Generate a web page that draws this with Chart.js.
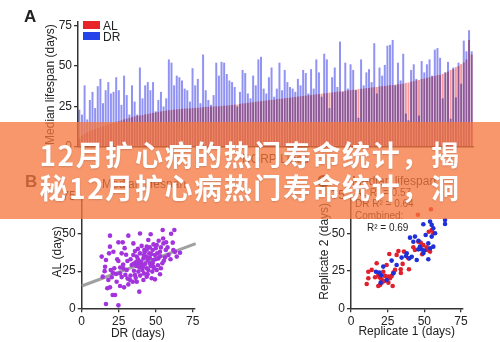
<!DOCTYPE html>
<html><head><meta charset="utf-8">
<script src="https://cdn.jsdelivr.net/npm/chart.js@4.4.1/dist/chart.umd.min.js"></script>
<style>
html,body{margin:0;padding:0;background:#fff;}
#wrap{position:relative;width:500px;height:342px;overflow:hidden;font-family:'Liberation Sans',Arial,sans-serif;color:#222;}
.box{position:absolute;}
.lbl{position:absolute;white-space:nowrap;line-height:1;}
.sw{position:absolute;width:17px;height:8px;}
#banner{position:absolute;left:0;top:122px;width:500px;height:97px;background:rgba(246,118,62,0.76);z-index:10;}
#banner div{position:absolute;left:0;width:500px;text-align:center;color:#fff;font-weight:bold;font-size:28px;font-family:'Noto Sans CJK SC',sans-serif;letter-spacing:1.6px;white-space:nowrap;line-height:36px;text-shadow:0 1px 2px rgba(0,0,0,.15);}
</style></head>
<body>
<div id="wrap">
  <div class="box" style="left:0;top:0;width:500px;height:172px"><canvas id="cA"></canvas></div>
  <div class="box" style="left:0;top:175px;width:250px;height:167px"><canvas id="cB"></canvas></div>
  <div class="box" style="left:250px;top:175px;width:250px;height:167px"><canvas id="cC"></canvas></div>

  <div class="lbl" style="left:24px;top:8px;font-weight:bold;font-size:17px">A</div>
  <div class="sw" style="left:83px;top:21px;background:#E8232A"></div>
  <div class="sw" style="left:83px;top:32px;background:#2443E8"></div>
  <div class="lbl" style="left:103px;top:20px;font-size:12px">AL</div>
  <div class="lbl" style="left:103px;top:31px;font-size:12px">DR</div>

  <div class="lbl" style="left:25px;top:173px;font-weight:bold;font-size:17px">B</div>
  <div class="lbl" style="left:102px;top:178px;font-size:12px">Median lifespan</div>

  <div class="lbl" style="left:317px;top:173px;font-weight:bold;font-size:17px">C</div>
  <div class="lbl" style="left:352px;top:175px;font-size:12px">Median lifespan</div>
  <div class="lbl" style="left:355px;top:188px;font-size:10px">AL R² = 0.57</div>
  <div class="lbl" style="left:355px;top:199px;font-size:10px">DR R² = 0.64</div>
  <div class="lbl" style="left:355px;top:211px;font-size:10px">Combined:</div>
  <div class="lbl" style="left:367px;top:223px;font-size:10px">R² = 0.69</div>

  <div id="banner">
    <div style="top:14px">12月扩心病的热门寿命统计，揭</div>
    <div style="top:47px">秘12月扩心病热门寿命统计，洞</div>
  </div>
</div>
<script>
// ---- Panel A: median lifespan per DGRP line (sorted by AL) ----
const AL = [5.5,7,8.2,9,9.8,10.4,11.1,11.6,12.3,12.8,
  13.2,13.9,14.4,14.8,15.5,15.9,16.4,17.1,17.5,18.0,
  18.4,18.9,19.2,19.4,19.7,20.1,20.3,20.8,21.0,21.3,
  21.7,21.9,22.2,22.5,22.7,22.8,23.1,23.2,23.4,23.6,
  23.7,23.8,23.8,24.0,24.1,24.1,24.3,24.6,24.7,24.8,
  24.9,25.0,25.1,25.1,25.3,25.5,25.5,25.7,25.9,26.1,
  26.2,26.6,26.9,27.0,27.2,27.5,27.6,27.9,28.1,28.2,
  28.5,28.6,28.9,29.1,29.2,29.5,29.7,29.8,30.1,30.3,
  30.4,30.7,30.8,31.1,31.3,31.4,31.7,31.9,32.0,32.3,
  32.5,32.6,32.9,33.1,33.2,33.5,33.6,33.9,34.1,34.2,
  34.5,34.7,34.8,35.1,35.3,35.4,35.7,35.9,36.0,36.3,
  36.4,36.7,36.9,37.0,37.3,37.5,37.6,37.9,38.1,38.2,
  38.5,38.7,38.8,39.1,39.5,39.8,40.3,40.6,41.1,41.3,
  41.9,42.2,42.7,43.0,43.5,43.8,44.3,44.5,45.1,45.9,
  46.5,47.5,48.1,49.2,49.9,51.1,52.2,54.0,66.0,57.0];
const DR = [23,20,38,17,29,34,24,37.5,42,27,
  35,40,33,34,43,35,26,44,32,20,
  38,28,20,49,30,38,40,35,40,22,
  29,34,25,30,54,52,38,44,43,41,
  36,35,28,48.6,38,42,27,57,35,29,
  26,32,52,44,52.5,52,45,41,40,37,
  25,34,47.5,45.6,33,30,44,38,54,55.6,
  36,33,43,49,31,36,52,35,47.5,40,
  37,36,34,42,38,47.5,45.6,33,48,36,
  54,46,31,57.5,54,24,43,49,37,65,
  34,52,36,51,47.5,35,18,54,38,46,
  48,40,64,33,49,44,50.6,62.5,63,66,
  38,52,41,57.5,20.6,16.5,47.5,51,42,19.4,
  53,46,51,54,44,60,61,55,30,46,
  52.5,17.5,49,30.6,52,39,65.6,59,72,59];
const lines = AL.map((_, i) => 'Line ' + (i + 1));
const aTicks = [0, 25, 50, 75];

// ---- Panel B: DR vs AL per line ----
const bDR = [19.1,31.5,39.4,46.6,54.7,62.6,60.4,24.8,27.7,34.9,19.1,21.4,13.5,16.4,24.8,30.9,43.9,42.3,45,50.7,
  55.2,61.5,66.4,64.2,61.9,58.6,15.8,19.6,23.2,25.9,28.2,30.4,33.8,32.7,36,38.9,37.2,41.7,43.9,47.3,
  49.5,52.9,50.7,54.5,56.3,48.4,46.2,40.5,38.3,34.9,37.2,39.4,41.7,43.9,45.7,47.9,49.5,51.8,52.9,56.8,
  20.3,18,17.3,19.1,20.9,22.5,24.8,16.4,14.2,23.6,25.9,28.6,31.5,34.5,45,47.7,48.4,41,38.3,35.3,
  36.5,38,40,42,43,44.5,46,47,48,50,51,53,39,41.5,44,46.5,49,37,35,33,
  42.5,44,46,48.5,50,52,53.5,55,57,40.5,38,36,30,28,26,27,29.5,31,22,21,
  24,27,29,33,36.5,39.5,42,44.5,51.5,53.5,55.5,58,63,60,18.5,15.5];
const bAL = [48.9,48.9,50.4,49.8,52.7,52.7,50.2,44.4,44.4,43.7,41.5,38.1,34.8,32.5,31.8,31.8,41.5,39.2,46,42.6,
  43.7,44.2,37.4,34.8,39.2,35.9,28,25.8,23.1,23.5,26.9,25.8,29.1,19.1,22.4,11.2,17.9,19.1,21.3,20.2,
  19.5,22.9,25.8,30.3,34.3,32.5,30.3,29.1,30.3,35.9,34.8,37,33.6,34.8,37,39.2,35.9,33.6,38.1,39.2,
  20.9,19.1,13.5,14.1,9,9,2,2.9,21.3,17.9,15,14.1,16.1,17.9,25.8,24.7,28,25.8,24.7,25.3,
  31,33,31.5,35.5,30,32.5,34,36.5,30.5,33,37,35,27.5,28,27,28.5,27,28.5,30,33,
  37.5,39.5,41,43,40.5,45.5,41,47,44.5,42,40,38.5,36,29.5,27.5,21,22.5,20,27,24,
  33,37,40.5,22,20.5,22,23.5,23,29,27,32,41,38,33,37,25];
const fitX = [0, 77];
const fitY = [15, 43.6];

// ---- Panel C: replicate 1 vs replicate 2 ----
const cALx = [10.7,11.8,14.1,16.4,17.5,18.6,19.8,20.9,22,24.3,25.5,26.1,26.6,27.7,28.4,30,31.1,32.3,33.9,35.2,
  36.1,39.1,42.5,43.6,45.9,47.5,49.3,52,53.9,55,56.1,51.6,45.6,54.5,11.8,18.6,20.9,23.2,25.5,39.5,29,34,22.5,19.5,53,48.5];
const cALy = [16.2,24.4,25.6,20.7,30,22.2,15.6,19.3,24.4,28.9,21.1,36.2,20,21.6,14.9,25.6,35.6,38.2,26,29.6,
  37.8,33.3,40.7,38.9,44.4,43.8,42.2,38.9,37.8,52.2,50,40.7,62.4,66,20,14.9,17.1,21.6,17.1,26,24,23.5,18,20.5,51,36];
const cDRx = [17,19.3,20.2,22,27.7,34.5,37.5,39.8,41.4,42.5,40.2,43.6,44.8,47,48.2,49.3,50.9,52.7,53.9,55,
  56.1,57.3,55,52.7,64.1,64.1,38,45.9,49.3,31.1,28.9,24.3,56.1,50,46,54,20.5];
const cDRy = [24.4,23.8,17.1,27.8,31.8,33.8,34.9,33.3,34.4,44.4,47.1,47.8,32.2,41.1,39.3,56,48.9,43.3,57.8,55.6,
  53.3,50,47.8,32.7,58.9,56.2,36.7,39.3,36.7,28.9,23.3,18.9,41.1,38.5,45,40,22];

const AX = '#333', TXT = '#222';
Chart.defaults.font.family = "'Liberation Sans', Arial, sans-serif";
Chart.defaults.font.size = 12;
Chart.defaults.color = TXT;

// overlapping bars mix like the original (multiply blend for the DR layer)
const blendPlugin = {
  id: 'blend',
  beforeDatasetDraw(chart, args) {
    if (chart.canvas.id === 'cA' && chart.data.datasets[args.index].label === 'DR') {
      chart.ctx.globalCompositeOperation = 'multiply';
    }
  },
  afterDatasetDraw(chart) { chart.ctx.globalCompositeOperation = 'source-over'; }
};

function linAxis(o) {
  return {
    type: 'linear', min: 0, max: o.max,
    afterBuildTicks: s => { s.ticks = o.ticks.map(v => ({ value: v })); },
    ticks: { padding: 2, color: TXT, font: { size: 12 } },
    grid: { display: true, drawOnChartArea: false, tickLength: 4, color: AX, lineWidth: 1.3 },
    border: { display: true, color: AX, width: 1.5 },
    title: { display: true, text: o.title, color: TXT, font: { size: 12 }, padding: o.tpad },
    afterFit: o.fit
  };
}
const common = {
  responsive: true, maintainAspectRatio: false, animation: false, devicePixelRatio: 1,
  events: [],
  plugins: { legend: { display: false }, tooltip: { enabled: false } }
};

new Chart(document.getElementById('cA'), {
  type: 'bar',
  plugins: [blendPlugin],
  data: {
    labels: lines,
    datasets: [
      { label: 'AL', data: AL, backgroundColor: 'rgba(236,28,36,0.45)', grouped: false, order: 2,
        barPercentage: 0.76, categoryPercentage: 1 },
      { label: 'DR', data: DR, backgroundColor: 'rgba(36,40,232,0.5)', grouped: false, order: 1,
        barPercentage: 0.76, categoryPercentage: 1 }
    ]
  },
  options: Object.assign({}, common, {
    layout: { padding: { left: 39, right: 27, top: 22.1, bottom: 0 } },
    scales: {
      x: {
        type: 'category', offset: true,
        grid: { display: false },
        border: { display: true, color: AX, width: 1.5 },
        ticks: { display: false },
        title: { display: true, text: 'DGRP Lines', color: TXT, font: { size: 12 }, padding: { top: 0, bottom: 5 } },
        afterFit: s => { s.height = 25; }
      },
      y: linAxis({ max: 77, ticks: aTicks, title: 'Median lifespan (days)', tpad: { top: 4, bottom: 0 },
        fit: s => { s.width = 39; } })
    }
  })
});

new Chart(document.getElementById('cB'), {
  type: 'scatter',
  data: {
    datasets: [
      { type: 'scatter', label: 'Lines', data: bDR.map((x, i) => ({ x: x, y: bAL[i] })),
        pointRadius: 2.3, pointBackgroundColor: '#A333DD', pointBorderWidth: 0, order: 1 },
      { type: 'line', label: 'Fit', data: fitX.map((x, i) => ({ x: x, y: fitY[i] })),
        borderColor: 'rgba(150,150,150,0.9)', borderWidth: 3, pointRadius: 0, clip: false, order: 2 }
    ]
  },
  options: Object.assign({}, common, {
    layout: { padding: { left: 46.8, right: 55.8, top: 20.4, bottom: 0 } },
    scales: {
      x: linAxis({ max: 76, ticks: aTicks, title: 'DR (days)', tpad: { top: 0, bottom: 0.8 },
        fit: s => { s.height = 33.7; } }),
      y: linAxis({ max: 76, ticks: aTicks, title: 'AL (days)', tpad: { top: 4, bottom: 0 },
        fit: s => { s.width = 34.9; } })
    }
  })
});

new Chart(document.getElementById('cC'), {
  type: 'scatter',
  data: {
    datasets: [
      { label: 'AL', data: cALx.map((x, i) => ({ x: x, y: cALy[i] })),
        pointRadius: 2.3, pointBackgroundColor: '#E0202C', pointBorderWidth: 0, order: 2 },
      { label: 'DR', data: cDRx.map((x, i) => ({ x: x, y: cDRy[i] })),
        pointRadius: 2.3, pointBackgroundColor: '#2030D8', pointBorderWidth: 0, order: 1 }
    ]
  },
  options: Object.assign({}, common, {
    layout: { padding: { left: 63.8, right: 37.5, top: 19.3, bottom: 0 } },
    scales: {
      x: linAxis({ max: 76, ticks: aTicks, title: 'Replicate 1 (days)', tpad: { top: 0, bottom: 2.8 },
        fit: s => { s.height = 33.7; } }),
      y: linAxis({ max: 76, ticks: aTicks, title: 'Replicate 2 (days)', tpad: { top: 4, bottom: 0 },
        fit: s => { s.width = 37.2; } })
    }
  })
});
</script>
</body></html>
